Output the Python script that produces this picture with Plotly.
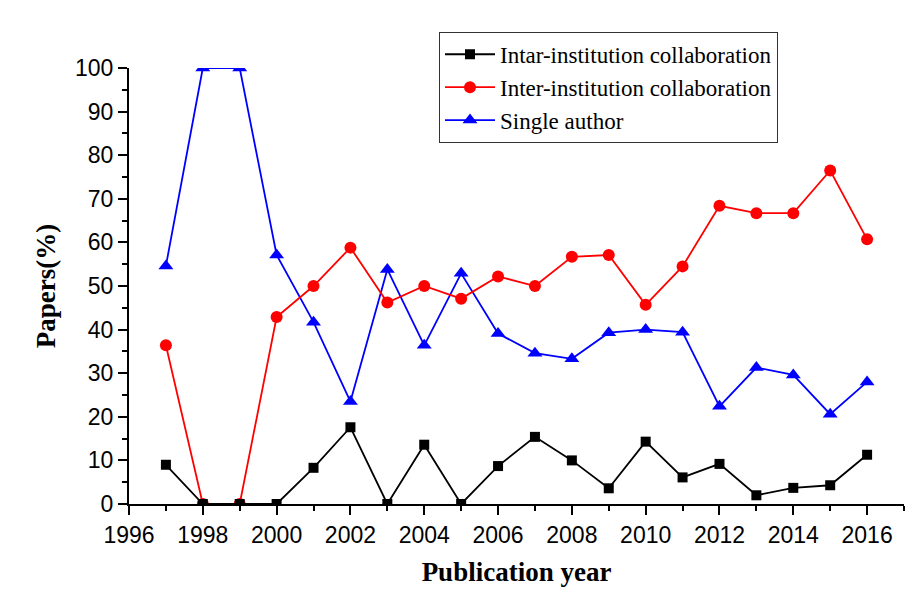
import plotly.graph_objects as go

years = list(range(1997, 2017))
intar = [9.0, 0, 0, 0, 8.3, 17.6, 0, 13.6, 0, 8.7, 15.4, 10.0, 3.6, 14.3, 6.1, 9.2, 2.0, 3.7, 4.3, 11.3]
inter = [36.4, 0, 0, 42.9, 50.0, 58.8, 46.2, 50.0, 47.1, 52.2, 50.0, 56.7, 57.1, 45.7, 54.5, 68.4, 66.7, 66.7, 76.5, 60.7]
single = [54.6, 100, 100, 57.1, 41.7, 23.5, 53.8, 36.4, 52.9, 39.1, 34.6, 33.3, 39.3, 40.0, 39.4, 22.4, 31.3, 29.6, 20.6, 28.0]

names = ["Intar-institution collaboration", "Inter-institution collaboration", "Single author"]
x_ticks = list(range(1996, 2017, 2))
y_ticks = list(range(0, 101, 10))

fig = go.Figure()
fig.add_trace(go.Scatter(x=years, y=single, name=names[2], mode="lines+markers",
                         line=dict(color="#0000ff", width=1.8),
                         marker=dict(symbol="triangle-up", size=13, color="#0000ff")))
fig.add_trace(go.Scatter(x=years, y=inter, name=names[1], mode="lines+markers",
                         line=dict(color="#ff0000", width=1.8),
                         marker=dict(symbol="circle", size=12, color="#ff0000")))
fig.add_trace(go.Scatter(x=years, y=intar, name=names[0], mode="lines+markers",
                         line=dict(color="#000000", width=1.8),
                         marker=dict(symbol="square", size=10, color="#000000")))

fig.update_layout(
    width=923, height=597,
    margin=dict(l=121, r=27, t=60, b=101),
    paper_bgcolor="white", plot_bgcolor="white",
    showlegend=True,
    legend=dict(x=0.4, y=1.083, xanchor="left", yanchor="top",
                traceorder="reversed",
                bgcolor="white", bordercolor="#333333", borderwidth=1,
                font=dict(family="Liberation Serif", size=23, color="black"),
                itemwidth=50, tracegroupgap=0),
    xaxis=dict(range=[1996, 2017], tickvals=x_ticks, ticktext=[str(v) for v in x_ticks],
               showgrid=False, zeroline=False, showline=True, linecolor="black", linewidth=2,
               ticks="outside", ticklen=9, tickwidth=2, tickcolor="black",
               minor=dict(dtick=1, tick0=1996, ticks="outside", ticklen=5, tickwidth=2, tickcolor="black"),
               tickfont=dict(family="Liberation Sans", size=23, color="black"),
               title=dict(text="<b>Publication year</b>", standoff=16,
                          font=dict(family="Liberation Serif", size=27, color="black"))),
    yaxis=dict(range=[0, 100], tickvals=y_ticks, ticktext=[str(v) for v in y_ticks],
               showgrid=False, zeroline=False, showline=True, linecolor="black", linewidth=2,
               ticks="outside", ticklen=9, tickwidth=2, tickcolor="black",
               minor=dict(dtick=5, tick0=0, ticks="outside", ticklen=5, tickwidth=2, tickcolor="black"),
               tickfont=dict(family="Liberation Sans", size=23, color="black"),
               title=dict(text="<b>Papers(%)</b>", standoff=12,
                          font=dict(family="Liberation Serif", size=27, color="black"))),
)

fig.write_html("out.html")
